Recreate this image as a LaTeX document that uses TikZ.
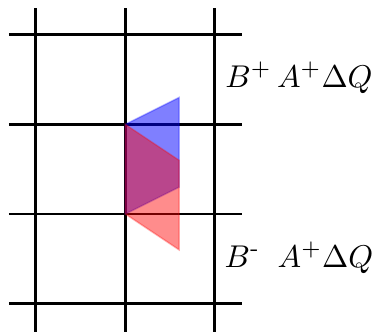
\documentclass[tikz,border=0pt]{standalone}
\usepackage{amsmath}
\usepackage{tikz}
\usetikzlibrary{positioning,calc}
\definecolor{trBlue}{HTML}{0000FF}
\definecolor{trRed}{HTML}{FF0000}
\tikzset{
  grid-line/.style={line width=0.9pt, draw=black},
  tri-blue/.style={fill=trBlue, fill opacity=0.5, draw=trBlue, draw opacity=0.3, line width=0.5pt},
  tri-red/.style={fill=trRed, fill opacity=0.45, draw=trRed, draw opacity=0.3, line width=0.5pt},
  flux-label/.style={font=\normalsize, inner sep=0pt}
}
\begin{document}
\begin{tikzpicture}
\useasboundingbox (-1.4,-1.31) rectangle (2.8,2.39);
% grid
\foreach \x in {-1,0,1}
  \draw[grid-line] (\x,-1.4) -- (\x,2.3);
\foreach \y in {-1,0,1,2}
  \draw[grid-line] (-1.3,\y) -- (1.3,\y);

% waves
\coordinate (p0) at (0,0);
\coordinate (p1) at (0,1);
\filldraw[tri-blue] (p1) -- (0.6,1.3) -- (0.6,0.3) -- (p0) -- cycle;
\filldraw[tri-red] (p1) -- (0.6,0.6) -- (0.6,-0.4) -- (p0) -- cycle;

% labels
\node[flux-label] (bplus) at (1.94,1.52) {$B^{+}\,A^{+}\Delta Q$};
\node[flux-label] (bminus) at (1.94,-0.49) {$B^{\text{-}}\;\;A^{+}\Delta Q$};
\end{tikzpicture}
\end{document}
